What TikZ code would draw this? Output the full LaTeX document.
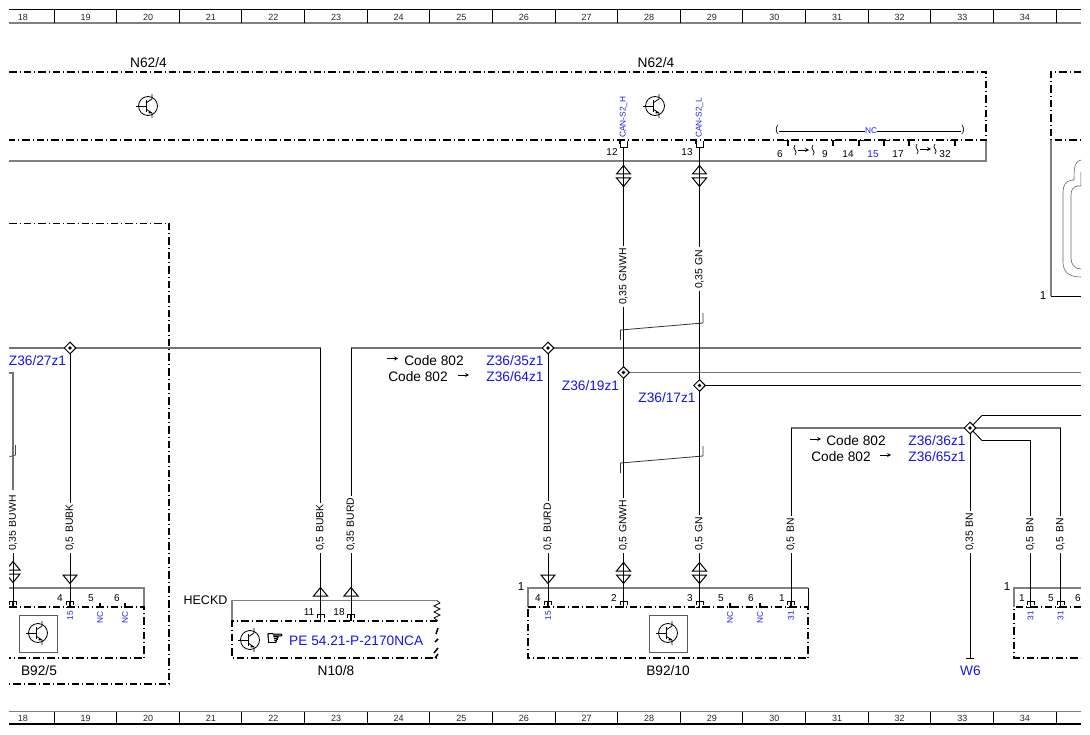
\documentclass[tikz,border=0pt]{standalone}
\usepackage{fontspec}
\setmainfont{Liberation Sans}
\newfontfamily\symfont[AutoFakeBold=3]{DejaVu Sans}
\usetikzlibrary{shapes.geometric}

\newcommand{\txtbig}{\fontsize{13.7}{15}\selectfont}
\newcommand{\txtwire}{\fontsize{10.4}{12}\selectfont}
\newcommand{\txtpin}{\fontsize{10}{11}\selectfont}
\newcommand{\txtblue}{\fontsize{8.3}{10}\selectfont}

\definecolor{linkblue}{RGB}{20,20,240}
\definecolor{pinblue}{RGB}{30,30,240}

\tikzset{
  pics/transistor/.style={code={
    \draw [line width=0.8pt, fill=white] (0,0) circle (9.5);
    \draw [line width=0.8pt] (-12,0) -- (-2,0) (-2,-6) -- (-2,6);
    \draw [line width=0.8pt] (-2,-3) -- (4,-7) -- (4,-12) (-2,3) -- (4,7) -- (4,12);
    \fill (1,5) -- (4,7) -- (0.5,7.5) -- cycle;
  }},
  pics/plugdown/.style={code={
    \draw [line width=1pt] (-7,-4) -- (7,-4) -- (0,4.5) -- cycle;
  }},
  pics/plugup/.style={code={
    \draw [line width=1pt] (-7,4) -- (7,4) -- (0,-4.5) -- cycle;
  }},
  pics/plugboth/.style={code={
    \draw [line width=1pt] (-7,-2) -- (7,-2) -- (0,-10.5) -- cycle;
    \draw [line width=1pt] (-7,2) -- (7,2) -- (0,10.5) -- cycle;
  }},
  pics/pinlow/.style={code={
    \draw [line width=0.7pt] (-3.5,3.5) -- (-3.5,0) -- (3.5,0) -- (3.5,3.5);
    \draw [line width=1.6pt] (0,0) -- (0,6.5) -- (-4,6.5);
  }},
  pics/pinhigh/.style={code={
    \draw [line width=0.8pt] (-3.5,1) -- (-3.5,7) -- (3.5,7) -- (3.5,1);
    \draw [line width=1.4pt] (-3.5,0) -- (-3.5,4);
  }},
  pics/tickleft/.style={code={\draw [line width=1.6pt] (-5,0) -- (0,0) -- (0,5.5);}},
  pics/tickright/.style={code={\draw [line width=1.6pt] (5,0) -- (0,0) -- (0,5.5);}},
  pics/tickup/.style={code={\draw [line width=1.6pt] (0,0) -- (0,5);}},
  pics/loopmark/.style={code={
    \draw [line width=0.7pt] (0,-5) .. controls (-4,-1) and (4,1) .. (0,5);
    \draw [line width=0.7pt] (18,-5) .. controls (14,-1) and (22,1) .. (18,5);
    \draw [line width=0.7pt, -stealth] (3,0) -- (14,0);
  }},
  pics/codearrow/.style={code={
    \draw [line width=0.7pt, -stealth] (0,0) -- (11,0);
  }},
}

\begin{document}
\begin{tikzpicture}
[x=1pt, y=-1pt, >=stealth,
 wire/.style={line width=0.9pt, black},
 greywire/.style={line width=1.3pt, black!55},
 frameline/.style={line width=1.3pt, black!50},
 modulebox/.style={line width=1.5pt, dash pattern=on 7.5pt off 3pt on 1pt off 3pt},
 bigtext/.style={inner sep=0, font=\txtbig},
 codetext/.style={inner sep=0, font=\txtbig, text=linkblue},
 wirelabel/.style={rotate=90, anchor=west, fill=white, inner xsep=2pt, inner ysep=1pt, font=\txtwire},
 pinnum/.style={inner sep=0, font=\txtpin},
 onenum/.style={inner sep=0, font=\fontsize{11.5}{13}\selectfont},
 pinname/.style={rotate=90, inner sep=0, font=\txtblue, text=pinblue},
 rulernum/.style={inner sep=0, font=\fontsize{9}{10}\selectfont, text=black!85},
 splice/.style={diamond, draw, fill=white, line width=1pt, inner sep=0, minimum size=12pt,
   path picture={\fill [black] (path picture bounding box.center) circle (1.9pt);}},
 pinpoint/.style={coordinate},
]
\useasboundingbox (0,0) rectangle (1090,735);
\begin{scope}
\clip (9,0) rectangle (1081,735);

% ruler top and bottom
\draw [line width=1.1pt] (9,9.5) -- (1081,9.5);
\draw [frameline] (9,23) -- (1081,23);
\draw [frameline] (9,711.5) -- (1081,711.5);
\draw [line width=1.1pt] (9,724) -- (1081,724);
\foreach \n in {0,...,16} {
  \pgfmathsetmacro{\tx}{54+62.62*\n}
  \pgfmathsetmacro{\cx}{23+62.62*\n}
  \pgfmathtruncatemacro{\col}{18+\n}
  \draw [line width=0.8pt] (\tx,9.5) -- (\tx,23);
  \draw [line width=0.8pt] (\tx,711.5) -- (\tx,724);
  \node (top\col) [rulernum] at (\cx,17) {\col};
  \node (bot\col) [rulernum] at (\cx,718) {\col};
}

% module frames
\draw [frameline] (9,161) -- (986,161) -- (986,140);
\draw [modulebox] (9,72) -- (986,72) -- (986,140) -- (9,140);
\draw [modulebox] (1081,72) -- (1051,72) -- (1051,140) -- (1081,140);
\draw [frameline] (1051,140) -- (1051,296);
\draw [line width=0.9pt] (1051,296.5) -- (1081,296.5);
\draw [modulebox, line width=1.1pt] (9,223.5) -- (169,223.5) -- (169,684) -- (9,684);

\draw [line width=0.6pt, black!60] (1081,160) .. controls (1075,161) and (1074,166) .. (1074,180)
  -- (1072,180) .. controls (1066,181) and (1063,185) .. (1063,192) -- (1063,262)
  .. controls (1063,272) and (1069,277) .. (1081,277);
\draw [line width=0.6pt, black!60] (1081,172) -- (1081,186) -- (1077,186)
  .. controls (1073,187) and (1071,190) .. (1071,195) -- (1071,258)
  .. controls (1071,265) and (1075,269) .. (1081,269);

\draw [frameline] (9,588) -- (144,588) -- (144,607);
\draw [modulebox] (9,607) -- (144,607) -- (144,658) -- (9,658);
\draw [frameline] (232,620) -- (232,600.5) -- (437,600.5);
\draw [modulebox] (437,621) -- (232,621) -- (232,658) -- (437,658);
\draw [line width=0.7pt] (437,600.5) -- (440,603) -- (434,606) -- (440,609) -- (434,612) -- (440,615) -- (434,618) -- (438,621);
\draw [line width=1.5pt] (438,628) -- (436,634) (438,639) -- (435,642) (438,648) -- (434,653) (438,654) -- (435,658);
\draw [frameline] (528,607) -- (528,588) -- (808,588);
\draw [line width=0.9pt] (808,588) -- (808,607);
\draw [modulebox] (528,607) -- (808,607) -- (808,658) -- (528,658) -- cycle;
\draw [frameline] (1014,607) -- (1014,588) -- (1081,588);
\draw [modulebox] (1081,607) -- (1014,607) -- (1014,658) -- (1081,658);
\draw [line width=0.8pt, black!65] (19,615) rectangle (57,652);
\draw [line width=0.8pt, black!65] (649,615) rectangle (687,652);

% junctions and pins
\node (z27) [pinpoint] at (70,348) {};
\node (z35) [pinpoint] at (548,348) {};
\node (z19) [pinpoint] at (623.5,372.5) {};
\node (z17) [pinpoint] at (699.5,385.5) {};
\node (z36) [pinpoint] at (970,428) {};
\node (p12) [pinpoint] at (623.5,147) {};
\node (p13) [pinpoint] at (699.5,147) {};
\node (pb12) [pinpoint] at (13,601) {};
\node (pb4) [pinpoint] at (70,601) {};
\node (pn11) [pinpoint] at (320.5,614) {};
\node (pn18) [pinpoint] at (351,614) {};
\node (pc4) [pinpoint] at (548,601) {};
\node (pc2) [pinpoint] at (623.5,601) {};
\node (pc3) [pinpoint] at (699.5,601) {};
\node (pc1) [pinpoint] at (791,601) {};
\node (pd1) [pinpoint] at (1030.5,601) {};
\node (pd5) [pinpoint] at (1060.5,601) {};
\node (w6) [pinpoint] at (970,658) {};
\coordinate (lw27) at (9,348);
\coordinate (cn11) at (320.5,348);
\coordinate (cn18) at (351,348);
\coordinate (r348) at (1081,348);
\coordinate (r372) at (1081,372.5);
\coordinate (r385) at (1081,385.5);
\coordinate (cbn) at (791,428);
\coordinate (cbr) at (1060.5,428);
\coordinate (up1) at (982,415.5);
\coordinate (up2) at (1081,415.5);
\coordinate (dn1) at (982,440.5);
\coordinate (dn2) at (1030.5,440.5);
\coordinate (wh1) at (13,373);
\coordinate (wh0) at (9,373);

% wires
\draw [greywire] (lw27) -- (cn11);
\draw [greywire] (cn18) -- (r348);
\draw [greywire] (z19) -- (r372);
\draw [line width=1pt] (z17) -- (r385);
\draw [greywire] (cbn) -- (cbr);
\draw [wire] (cbr) -- (pd5);
\draw [wire] (cn11) -- (pn11);
\draw [wire] (cn18) -- (pn18);
\draw [wire] (z27) -- (pb4);
\draw [wire] (z35) -- (pc4);
\draw [wire] (p12) -- (pc2);
\draw [wire] (p13) -- (pc3);
\draw [wire] (cbn) -- (pc1);
\draw [wire] (z36) -- (w6);
\draw [wire] (z36) -- (up1) -- (up2);
\draw [wire] (z36) -- (dn1) -- (dn2) -- (pd1);
\draw [greywire] (wh0) -- (wh1) -- (13,490);
\draw [wire] (13,552) -- (pb12);
\draw [line width=0.7pt, black!70] (9,457) -- (15.5,455) -- (15.5,445);
\draw [line width=0.7pt] (966,658) -- (974,658);
\draw [line width=0.8pt, black!80] (620.5,340) -- (620.5,330) -- (703,323) -- (703,313);
\draw [line width=0.8pt, black!80] (620.5,473) -- (620.5,463) -- (703,456) -- (703,446);

% nc group
\draw [line width=0.8pt] (779,131) -- (961,131);
\node (ncl) [inner sep=0, font=\txtpin] at (777,130) {(};
\node (ncr) [inner sep=0, font=\txtpin] at (963,130) {)};
\node (ncm) [pinname, rotate=-90, fill=white, inner xsep=0, inner ysep=1pt] at (871,131) {NC};

% plugs
\path (623.5,176) pic {plugboth} (699.5,176) pic {plugboth};
\path (13,572) pic {plugboth} (623.5,573) pic {plugboth} (699.5,573) pic {plugboth};
\path (70,579) pic {plugdown} (548,579) pic {plugdown};
\path (320.5,592) pic {plugup} (351,592) pic {plugup};

% pins
\path (623.5,140.5) pic {pinhigh} (699.5,140.5) pic {pinhigh};
\foreach \px in {13,70,548,623.5,699.5,791,1030.5,1060.5}
  \path (\px,601) pic {pinlow};
\foreach \px in {320.5,351} \path (\px,614) pic {pinlow};
\foreach \px in {788,955} \path (\px,140.5) pic {tickleft};
\foreach \px in {833,859,884,909} \path (\px,140.5) pic {tickright};
\foreach \px in {100,125,730,760} \path (\px,602.5) pic {tickup};
\path (795,150) pic {loopmark} (917,149) pic {loopmark};

% transistors
\path (148,106) pic {transistor} (655,106) pic {transistor};
\path (38,633) pic {transistor} (668,633) pic {transistor};
\path (250,640) pic {transistor};

% splices
\node (s27) [splice] at (z27) {};
\node (s35) [splice] at (z35) {};
\node (s19) [splice] at (z19) {};
\node (s17) [splice] at (z17) {};
\node (s36) [splice] at (z36) {};

% wire labels
\node (lgnwh) [wirelabel] at (623.5,307) {0,35\,\,GNWH};
\node (lgn) [wirelabel] at (699.5,291) {0,35\,\,GN};
\node (lbuwh) [wirelabel] at (13,553) {0,35\,\,BUWH};
\node (lbubk1) [wirelabel] at (70,553) {0,5\,\,BUBK};
\node (lbubk2) [wirelabel] at (320.5,553) {0,5\,\,BUBK};
\node (lburd1) [wirelabel] at (351,553) {0,35\,\,BURD};
\node (lburd2) [wirelabel] at (548,553) {0,5\,\,BURD};
\node (lgnwh2) [wirelabel] at (623.5,553) {0,5\,\,GNWH};
\node (lgn2) [wirelabel] at (699.5,553) {0,5\,\,GN};
\node (lbn1) [wirelabel] at (791,553) {0,5\,\,BN};
\node (lbn2) [wirelabel] at (970,553) {0,35\,\,BN};
\node (lbn3) [wirelabel] at (1030.5,553) {0,5\,\,BN};
\node (lbn4) [wirelabel] at (1060.5,553) {0,5\,\,BN};

% module names
\node (n62a) [bigtext] at (148.5,63) {N62/4};
\node (n62b) [bigtext] at (656,63) {N62/4};
\node (b925) [bigtext] at (39,671) {B92/5};
\node (n108) [bigtext] at (336,671) {N10/8};
\node (b9210) [bigtext] at (668,671) {B92/10};
\node (heckd) [inner sep=0, font=\fontsize{12.5}{14}\selectfont] at (205.5,600) {HECKD};
\node (one1) [onenum] at (1043,296) {1};
\node (one2) [onenum] at (521,587) {1};
\node (one3) [onenum] at (1007,587) {1};
\node (wsix) [codetext] at (970.5,671) {W6};
\node (hand) [inner sep=0, font=\symfont\bfseries\fontsize{20}{22}\selectfont] at (275,639) {☞};
\node (penote) [codetext, anchor=west] at (289,641) {PE 54.21-P-2170NCA};

% codes
\node (c27) [codetext] at (37.5,361) {Z36/27z1};
\node (c35) [codetext] at (515,361) {Z36/35z1};
\node (c64) [codetext] at (515,377) {Z36/64z1};
\node (c19) [codetext] at (590.5,386) {Z36/19z1};
\node (c17) [codetext] at (667,398) {Z36/17z1};
\node (c366) [codetext] at (937,441) {Z36/36z1};
\node (c65) [codetext] at (937,457) {Z36/65z1};
\node (cd1) [bigtext] at (434,361) {Code 802};
\node (cd2) [bigtext] at (418,377) {Code 802};
\node (cd3) [bigtext] at (856,441) {Code 802};
\node (cd4) [bigtext] at (841,457) {Code 802};
\path (387,358.5) pic {codearrow} (458,375) pic {codearrow} (810,439) pic {codearrow} (880,455) pic {codearrow};

% pin numbers
\foreach \nm/\px/\py/\tx in {a/612/152/12, b/687/152/13, c/780/154/6, d/825/154/9, e/848/154/14, f/898/154/17, g/945/154/32,
  h/60/598/4, i/91/598/5, j/117/598/6, k/309/612/11, l/339/612/18, m/538/598/4, n/614/598/2, o/690/598/3,
  p/721/598/5, q/751/598/6, r/782/598/1, s/1022/598/1, t/1051/598/5, u/1078/598/6}
  \node (num\nm) [pinnum] at (\px,\py) {\tx};
\node (num15) [pinnum, text=pinblue] at (873,154) {15};

% pin names
\node (nh) [pinname, anchor=west] at (623.5,138) {CAN-S2\_H};
\node (nl) [pinname, anchor=west] at (699.5,138) {CAN-S2\_L};
\foreach \nm/\px/\tx in {a/70/15, b/100/NC, c/125/NC, d/548/15, e/730/NC, f/760/NC, g/791/31, h/1030.5/31, i/1060.5/31}
  \node (pn\nm) [pinname, anchor=east] at (\px,611) {\tx};
\end{scope}
\end{tikzpicture}
\end{document}
